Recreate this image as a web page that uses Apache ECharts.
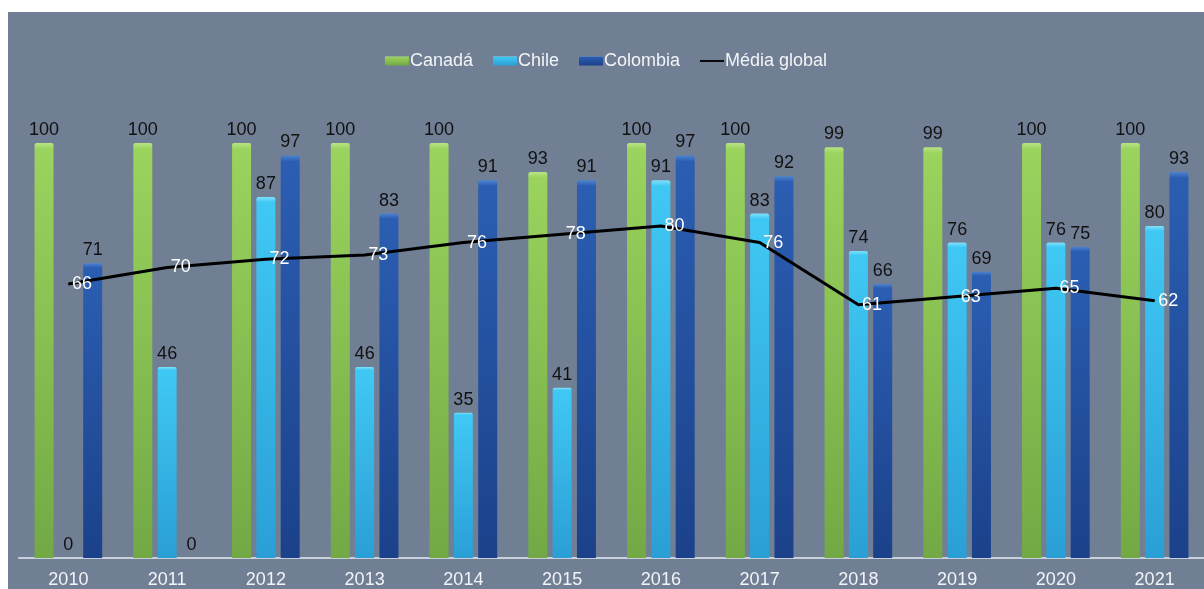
<!DOCTYPE html>
<html><head><meta charset="utf-8">
<script src="https://cdn.jsdelivr.net/npm/echarts@6/dist/echarts.min.js"></script>
<style>
html,body{margin:0;padding:0;background:#fff;width:1204px;height:589px;overflow:hidden}
#c{position:absolute;left:8px;top:12px;width:1196px;height:577px;background:#717f94}
</style></head><body><div id="c"></div>
<script>
const categories = ['2010','2011','2012','2013','2014','2015','2016','2017','2018','2019','2020','2021'];
const canada = [100,100,100,100,100,93,100,100,99,99,100,100];
const chile = [0,46,87,46,35,41,91,83,74,76,76,80];
const colombia = [71,0,97,83,91,91,97,92,66,69,75,93];
const mediaGlobal = [66,70,72,73,76,78,80,76,61,63,65,62];

const font = 'Liberation Sans, Arial, sans-serif';
function vgrad(cap, top, bottom){
  return new echarts.graphic.LinearGradient(0,0,0,1,[
    {offset:0,color:cap},{offset:0.015,color:top},{offset:1,color:bottom}]);
}
const barLabel = {show:true,position:'top',distance:4,color:'#111',fontSize:18,fontFamily:font};
const chart = echarts.init(document.getElementById('c'));
chart.setOption({
  backgroundColor:'transparent',
  animation:false,
  legend:{
    top:35,left:'center',itemWidth:24,itemHeight:9,itemGap:20,
    textStyle:{color:'#f2f4f8',fontSize:18,fontFamily:font,padding:[0,0,0,-4]},
    data:[
      {name:'Canadá',icon:'rect'},
      {name:'Chile',icon:'rect'},
      {name:'Colombia',icon:'rect'},
      {name:'Média global',icon:'path://M0,4 L26,4 L26,6 L0,6 Z'}
    ]
  },
  grid:{left:11,right:-18,top:131,bottom:31,containLabel:false},
  xAxis:{
    type:'category',data:categories,
    axisLine:{lineStyle:{color:'#c8d0dc',width:2}},
    axisTick:{show:false},
    axisLabel:{color:'#f2f4f8',fontSize:18,fontFamily:font,margin:13}
  },
  yAxis:{type:'value',min:0,max:100,show:false,splitLine:{show:false}},
  series:[
    {name:'Canadá',type:'bar',data:canada,barWidth:19,barGap:'28%',
      itemStyle:{color:vgrad('#b8e486','#9ad35d','#72a945'),borderRadius:[2,2,0,0]},label:barLabel},
    {name:'Chile',type:'bar',data:chile,barWidth:19,barGap:'28%',
      itemStyle:{color:vgrad('#7fe0fa','#40c8f4','#2a9fd6'),borderRadius:[2,2,0,0]},label:barLabel},
    {name:'Colombia',type:'bar',data:colombia,barWidth:19,barGap:'28%',
      itemStyle:{color:vgrad('#4d82d0','#2b5eb2','#1b418a'),borderRadius:[2,2,0,0]},label:barLabel},
    {name:'Média global',type:'line',data:mediaGlobal,symbol:'circle',symbolSize:1,showSymbol:true,
      lineStyle:{color:'#000',width:3},itemStyle:{color:'#000'},z:5,
      label:{show:true,position:'right',distance:3,color:'#fff',fontSize:18,fontFamily:font}}
  ]
});
</script></body></html>
